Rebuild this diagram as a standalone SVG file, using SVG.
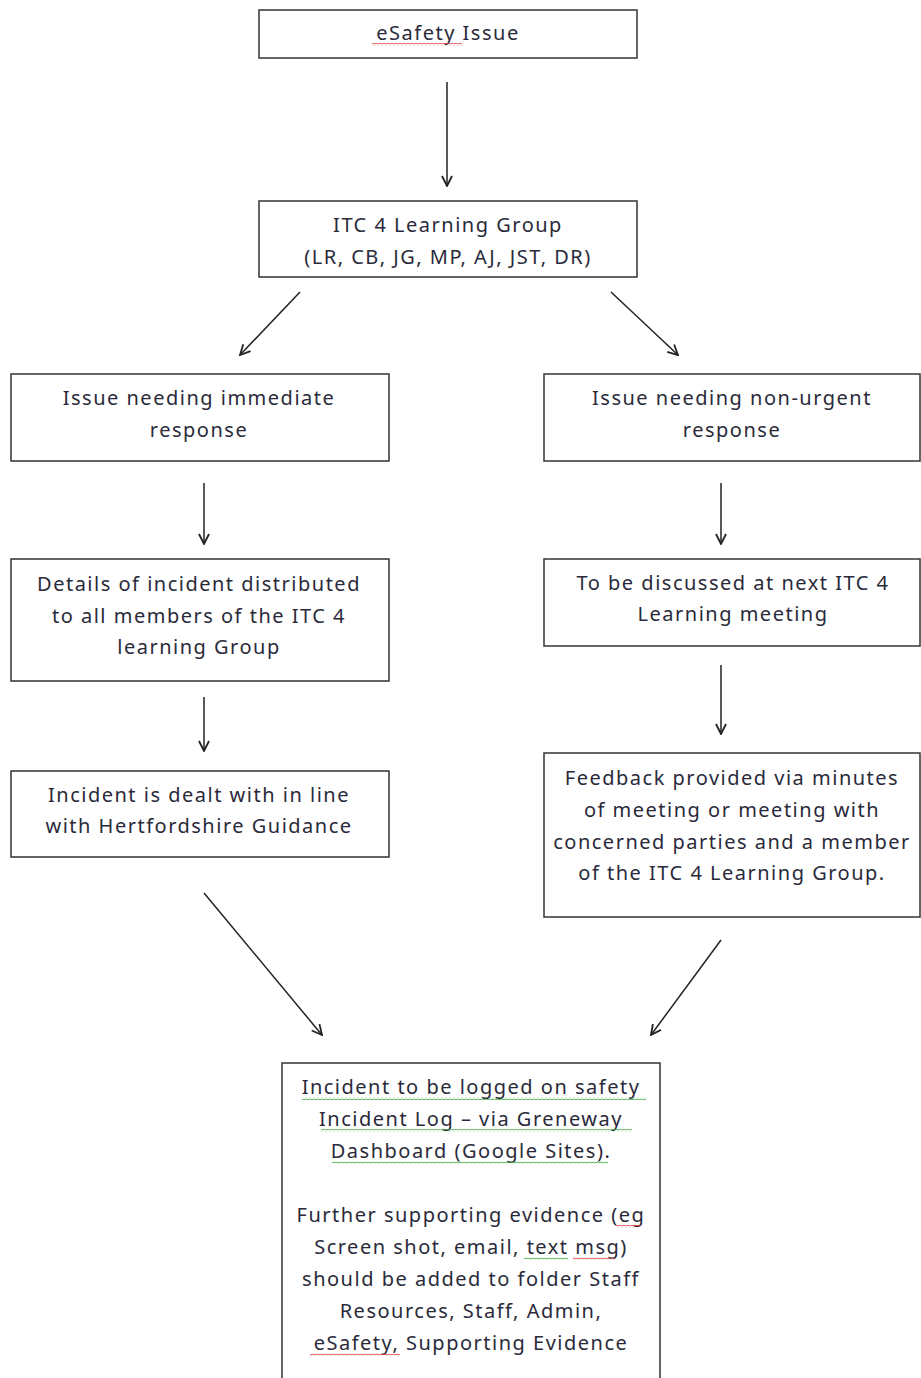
<svg xmlns="http://www.w3.org/2000/svg" width="921" height="1378" viewBox="0 0 921 1378">
<style>
.box{fill:#fff;stroke:#333;stroke-width:1.5}
.t{font-family:"Noto Sans","DejaVu Sans",sans-serif;font-size:20px;letter-spacing:1.5px;fill:#2a2a3a;text-anchor:middle}
.c{stroke:#222;stroke-width:1.5;fill:none;marker-end:url(#ah)}
</style>
<defs>
<marker id="ah" viewBox="0 0 12 12" refX="11" refY="6" markerWidth="12" markerHeight="12" markerUnits="userSpaceOnUse" orient="auto">
<path d="M1,1 L11,6 L1,11" fill="none" stroke="#222" stroke-width="1.8"/>
</marker>
<pattern id="wr" width="4" height="3" patternUnits="userSpaceOnUse">
<path d="M0,2 Q1,0 2,1.5 T4,1" fill="none" stroke="#d44" stroke-width="0.9"/>
</pattern>
<pattern id="wg" width="4" height="3" patternUnits="userSpaceOnUse">
<path d="M0,2 Q1,0 2,1.5 T4,1" fill="none" stroke="#4a4" stroke-width="0.9"/>
</pattern>
</defs>
<rect width="921" height="1378" fill="#fff"/>
<g id="connectors">
<line class="c" x1="447" y1="82" x2="447" y2="186"/>
<line class="c" x1="300" y1="292" x2="240" y2="355"/>
<line class="c" x1="611" y1="292" x2="678" y2="355"/>
<line class="c" x1="204" y1="483" x2="204" y2="544"/>
<line class="c" x1="721" y1="483" x2="721" y2="544"/>
<line class="c" x1="204" y1="697" x2="204" y2="751"/>
<line class="c" x1="721" y1="665" x2="721" y2="734"/>
<line class="c" x1="204" y1="893" x2="322" y2="1035"/>
<line class="c" x1="721" y1="940" x2="651" y2="1035"/>
</g>
<g id="n1">
<rect class="box" x="259" y="10" width="378" height="48"/>
<text class="t" x="448" y="40">eSafety Issue</text>
<rect x="372" y="43" width="90" height="3" fill="url(#wr)"/>
</g>
<g id="n2">
<rect class="box" x="259" y="201" width="378" height="76"/>
<text class="t" x="448" y="232">ITC 4 Learning Group</text>
<text class="t" x="448" y="264">(LR, CB, JG, MP, AJ, JST, DR)</text>
</g>
<g id="n3">
<rect class="box" x="11" y="374" width="378" height="87"/>
<text class="t" x="199" y="405">Issue needing immediate</text>
<text class="t" x="199" y="437">response</text>
</g>
<g id="n4">
<rect class="box" x="544" y="374" width="376" height="87"/>
<text class="t" x="732" y="405">Issue needing non-urgent</text>
<text class="t" x="732" y="437">response</text>
</g>
<g id="n5">
<rect class="box" x="11" y="559" width="378" height="122"/>
<text class="t" x="199" y="591">Details of incident distributed</text>
<text class="t" x="199" y="623">to all members of the ITC 4</text>
<text class="t" x="199" y="654">learning Group</text>
</g>
<g id="n6">
<rect class="box" x="544" y="559" width="376" height="87"/>
<text class="t" x="733" y="590">To be discussed at next ITC 4</text>
<text class="t" x="733" y="621">Learning meeting</text>
</g>
<g id="n7">
<rect class="box" x="11" y="771" width="378" height="86"/>
<text class="t" x="199" y="802">Incident is dealt with in line</text>
<text class="t" x="199" y="833">with Hertfordshire Guidance</text>
</g>
<g id="n8">
<rect class="box" x="544" y="753" width="376" height="164"/>
<text class="t" x="732" y="785">Feedback provided via minutes</text>
<text class="t" x="732" y="817">of meeting or meeting with</text>
<text class="t" x="732" y="849">concerned parties and a member</text>
<text class="t" x="732" y="880">of the ITC 4 Learning Group.</text>
</g>
<g id="n9">
<path class="box" d="M282,1380 L282,1063 L660,1063 L660,1380"/>
<text class="t" x="471" y="1094">Incident to be logged on safety</text>
<text class="t" x="471" y="1126">Incident Log – via Greneway</text>
<text class="t" x="471" y="1158">Dashboard (Google Sites).</text>
<rect x="302" y="1097" width="344" height="3" fill="url(#wg)"/>
<rect x="321" y="1129" width="311" height="3" fill="url(#wg)"/>
<rect x="332" y="1161" width="276" height="3" fill="url(#wg)"/>
<text class="t" x="471" y="1222">Further supporting evidence (eg</text>
<text class="t" x="471" y="1254">Screen shot, email, text msg)</text>
<text class="t" x="471" y="1286">should be added to folder Staff</text>
<text class="t" x="471" y="1318">Resources, Staff, Admin,</text>
<text class="t" x="471" y="1350">eSafety, Supporting Evidence</text>
<rect x="616" y="1225" width="25" height="3" fill="url(#wr)"/>
<rect x="524" y="1257" width="44" height="3" fill="url(#wg)"/>
<rect x="573" y="1257" width="42" height="3" fill="url(#wr)"/>
<rect x="310" y="1353" width="90" height="3" fill="url(#wr)"/>
</g>
</svg>
